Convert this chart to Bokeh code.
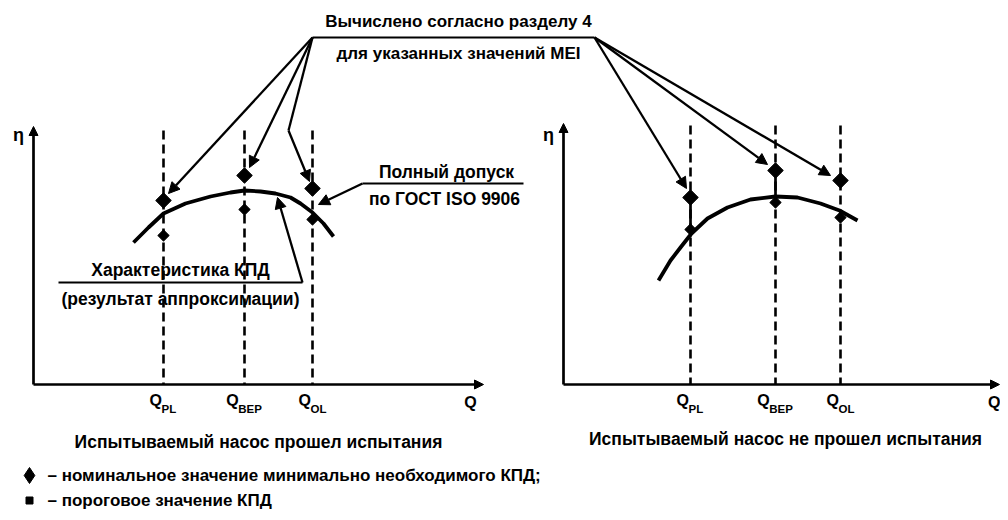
from bokeh.plotting import figure
from bokeh.models import Range1d, Arrow, NormalHead
from bokeh.core.properties import value
from bokeh.embed import file_html
from bokeh.resources import INLINE

FONT = "Liberation Sans"

# ---- data (diagram coordinates: x to the right, y measured downward) ----
q_subs = ["PL", "BEP", "OL"]

left_q = [163, 244, 312]
left_nominal = [200, 175, 188]
left_threshold = [235, 209, 219]
left_curve_q = [133, 148, 163, 185, 210, 230, 244, 260, 275, 290, 300, 312, 323, 333]
left_curve_eta = [242, 227, 213, 203, 196, 192, 190, 191, 193, 197, 203, 212, 223, 236]

right_q = [690, 775, 840]
right_nominal = [197, 170, 180]
right_threshold = [229, 202, 217]
right_curve_q = [658, 670, 680, 691, 707, 727, 750, 775, 797, 820, 839, 857]
right_curve_eta = [280, 260, 247, 233, 218, 207, 199, 196, 197, 203, 210, 220]

# panel frames: origin x, origin y, top of eta axis, end of Q axis
left_frame = (33, 384, 126, 483)
right_frame = (563, 384, 123, 999)
dash_top = [130, 125]

title_lines = ["Вычислено согласно разделу 4", "для указанных значений MEI"]
tol_lines = ["Полный допуск", "по ГОСТ ISO 9906"]
curve_lines = ["Характеристика КПД", "(результат аппроксимации)"]
captions = ["Испытываемый насос прошел испытания", "Испытываемый насос не прошел испытания"]
legend_lines = ["– номинальное значение минимально необходимого КПД;", "– пороговое значение КПД"]

p = figure(width=1000, height=512, x_range=Range1d(0, 1000), y_range=Range1d(512, 0),
           output_backend="svg", toolbar_location=None, min_border=0)
p.axis.visible = False
p.grid.visible = False
p.outline_line_color = None
p.background_fill_color = "white"
p.border_fill_color = "white"

def txt(x, y, s, size=17.5, align="center", bold=True, baseline="middle"):
    p.text(x=[x], y=[y], text=[s], text_font=value(FONT), text_font_size=f"{size}px",
           text_font_style="bold" if bold else "normal", text_align=align,
           text_baseline=baseline, text_color="black")

def arrow(x0, y0, x1, y1, w=2.3, size=11):
    p.add_layout(Arrow(end=NormalHead(size=size, fill_color="black", line_color="black", line_width=1),
                       x_start=x0, y_start=y0, x_end=x1, y_end=y1,
                       line_width=w, line_color="black"))

# ---- panels ----
for frame, qs, nom, thr, cq, ce, dt in [
        (left_frame, left_q, left_nominal, left_threshold, left_curve_q, left_curve_eta, dash_top[0]),
        (right_frame, right_q, right_nominal, right_threshold, right_curve_q, right_curve_eta, dash_top[1])]:
    ox, oy, ytop, xend = frame
    arrow(ox, oy, ox, ytop, w=2.7, size=9)
    arrow(ox, oy, xend, oy, w=2.7, size=9)
    txt(ox - 15, 134, "η", size=18)
    if xend < 990:
        txt(470, 402, "Q", size=16)
    else:
        txt(1000, 402, "Q", size=16, align="right")
    for i, q in enumerate(qs):
        p.line([q, q], [dt, oy], line_width=2.6, line_color="black", line_dash="9 5")
        sub = q_subs[i]
        sw = 8.5 * len(sub)
        x0 = q - (11 + sw) / 2
        txt(x0, 400, "Q", size=16, align="left")
        txt(x0 + 12, 408, sub, size=11.5, align="left")
    p.line(cq, ce, line_width=3.8, line_color="black")
    p.scatter(qs, nom, marker="square", size=11, color="black", angle=0.785)
    p.scatter(qs, thr, marker="square", size=8, color="black", angle=0.785)

# solid stretches on the failing panel
p.line([right_q[0], right_q[0]], [right_nominal[0], 236], line_width=2.7, line_color="black")
p.line([right_q[1], right_q[1]], [right_nominal[1], 205], line_width=2.7, line_color="black")

# ---- top callout ----
txt(458, 21, title_lines[0], size=17)
p.line([312, 594], [37, 37], line_width=2.2, line_color="black")
txt(458, 53, title_lines[1], size=17)
arrow(312, 37, 168, 193)
arrow(312, 37, 249, 167)
p.line([312, 288], [37, 130], line_width=2.3, line_color="black")
arrow(288, 130, 309, 181)
arrow(594, 37, 686, 188)
arrow(594, 37, 767, 164)
arrow(594, 37, 830, 175)

# ---- tolerance callout ----
txt(446, 171, tol_lines[0])
p.line([362, 523], [183, 183], line_width=2.2, line_color="black")
txt(444, 198, tol_lines[1])
arrow(362, 183, 318, 204)

# ---- curve callout ----
txt(180, 269, curve_lines[0])
p.line([58, 302], [282, 282], line_width=2.2, line_color="black")
txt(180, 298, curve_lines[1])
arrow(302, 282, 277, 197)

# ---- captions ----
txt(258, 441, captions[0])
txt(785, 438, captions[1])

# ---- legend ----
p.scatter([29], [475], marker="diamond", size=16, color="black")
txt(47, 475, legend_lines[0], size=17, align="left")
p.scatter([29], [500], marker="square", size=7, color="black")
txt(47, 500, legend_lines[1], size=17, align="left")

open("out.html", "w").write(file_html(p, INLINE))
